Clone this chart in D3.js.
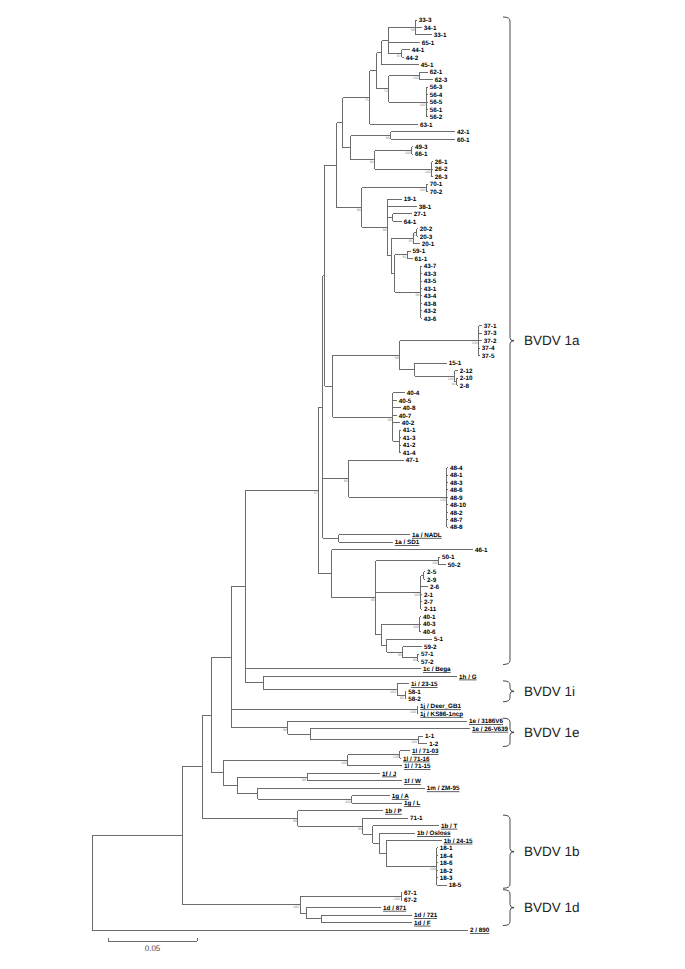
<!DOCTYPE html>
<html><head><meta charset="utf-8">
<script src="https://cdn.jsdelivr.net/npm/d3@7/dist/d3.min.js"></script>
<style>body{margin:0;background:#fff} text{text-rendering:geometricPrecision}</style>
</head><body>
<svg id="c" width="685" height="969"></svg>
<script>
// ---- DATA: tree pieces (Newick, branch lengths in substitutions/site, internal labels = bootstrap) ----
const cladeM   = "((33-3:0.0006,34-1:0.0034,33-1:0.0090)98:0.0152,65-1:0.0174,(44-1:0.0045,44-2:0.0011)97:0.0073)";
const cladeL   = "((62-1:0.0045,62-3:0.0073)100:0.0174,(56-3:0.0006,56-4:0.0006,56-5:0.0006,56-1:0.0006,56-2:0.0006)100:0.0213)74";
const clade351 = "((42-1:0.0360,60-1:0.0360)96:0.0225,((49-3:0.0006,66-1:0.0006)100:0.0208,(26-1:0.0006,26-2:0.0006,26-3:0.0006)100:0.0320)94:0.0135)";
const clade43  = "(43-7:0.0006,43-3:0.0006,43-5:0.0006,43-1:0.0006,43-4:0.0006,43-8:0.0006,43-2:0.0006,43-6:0.0006)98";
const clade37  = "(37-1:0.0017,37-3:0.0017,37-2:0.0017,37-4:0.0006,37-5:0.0006)100";
const clade15  = "(15-1:0.0180,(2-12:0.0017,(2-10:0.0006,2-8:0.0006)91:0.0011)100:0.0225)";
const clade4041= "(40-4:0.0067,40-5:0.0022,40-8:0.0045,40-7:0.0022,40-2:0.0039,(41-1:0.0006,41-3:0.0006,41-2:0.0006,41-4:0.0006):0.0039)99";
const clade48  = "(48-4:0.0006,48-1:0.0006,48-3:0.0006,48-6:0.0006,48-9:0.0006,48-10:0.0006,48-2:0.0006,48-7:0.0006,48-8:0.0006)100";
const cladeV   = "((40-1:0.0006,40-3:0.0006,40-6:0.0006)100:0.0213,(5-1:0.0253,(59-2:0.0107,(57-1:0.0006,57-2:0.0006)80:0.0084)95:0.0090):0.0028)";
const clade2   = "((2-5:0.0006,2-9:0.0006):0.0017,2-6:0.0039,2-1:0.0006,2-7:0.0006,2-11:0.0006)100";
const clade1i  = "(1h / G:0.1090,(1i / 23-15:0.0067,(58-1:0.0006,58-2:0.0006)95:0.0045)100:0.0753)";
const clade1j  = "(1j / Deer_GB1:0.0006,1j / KS86-1ncp:0.0006)100";
const clade1e  = "(1e / 3186V6:0.1006,(1e / 26-V639:0.0899,(1-1:0.0028,1-2:0.0051)100:0.0607):0.0124)88";
const cladeN5  = "(((1l / 71-03:0.0056,1l / 71-16:0.0006)100:0.0292,1l / 71-15:0.0303)100:0.0702,((1f / J:0.0410,1f / W:0.0534)98:0.0388,(1m / ZM-95:0.0938,(1g / A:0.0213,1g / L:0.0281)100:0.0528):0.0112):0.0084)";
const clade1b  = "(1b / P:0.0478,(71-1:0.0253,(1b / T:0.0371,(1b / Osloss:0.0197,(1b / 24-15:0.0309,(18-1:0.0006,18-4:0.0006,18-6:0.0006,18-2:0.0006,18-3:0.0006,18-5:0.0056)100:0.0281):0.0039):0.0039):0.0056)90:0.0365)98";
const clade1d  = "((67-1:0.0006,67-2:0.0006)100:0.0567,(1d / 871:0.0421,(1d / 721:0.0511,1d / F:0.0511):0.0084):0.0034)100";

const cladeNames = ["BVDV 1a", "BVDV 1i", "BVDV 1e", "BVDV 1b", "BVDV 1d"];
const cladeFirst = ["33-3", "1i / 23-15", "1e / 3186V6", "71-1", "67-1"];
const cladeLast  = ["57-2", "58-2", "1-2", "18-5", "1d / F"];
const scaleBarValue = 0.05;
const scaleBarLabel = "0.05";

// ---- assemble Newick ----
const cladeO = `(${cladeM}:0.0039,45-1:0.0208)`;
const cladeP = `(${cladeO}:0.0028,${cladeL}:0.0067)`;
const cladeK = `(${cladeP}:0.0039,63-1:0.0270)75`;
const cladeJ = `(${cladeK}:0.0152,${clade351}:0.0045)`;
const cladeT = `((59-1:0.0017,61-1:0.0028)92:0.0073,${clade43}:0.0146)`;
const cladeS = `(((20-2:0.0006,20-3:0.0006)71:0.0017,20-1:0.0034)95:0.0124,${cladeT}:0.0017)`;
const cladeR = `(19-1:0.0079,38-1:0.0163,(27-1:0.0107,64-1:0.0051):0.0028,${cladeS}:0.0022)96`;
const cladeQ = `((70-1:0.0006,70-2:0.0006)100:0.0365,${cladeR}:0.0146)98`;
const cladeE = `(${cladeJ}:0.0034,${cladeQ}:0.0140)`;
const cladeG = `(${clade37}:0.0444,${clade15}:0.0084)98`;
const cladeF = `(${cladeG}:0.0376,${clade4041}:0.0337)`;
const cladeD = `(${cladeE}:0.0067,${cladeF}:0.0045)`;
const cladeB = `(${cladeD}:0.0011,(47-1:0.0309,${clade48}:0.0551)80:0.0146,(1a / NADL:0.0399,1a / SD1:0.0303):0.0090)`;
const cladeU = `((50-1:0.0006,50-2:0.0039)100:0.0354,${clade2}:0.0253,${cladeV}:0.0034)95`;
const cladeC = `(46-1:0.0792,${cladeU}:0.0247)`;
const clade1a = `(${cladeB}:0.0022,${cladeC}:0.0073)57`;
const cladeN7 = `(${clade1a}:0.0410,1c / Bega:0.0983,${clade1i}:0.0096)`;
const cladeN4 = `(${cladeN7}:0.0084,${clade1j}:0.1045,${clade1e}:0.0320)`;
const cladeN3 = `(${cladeN4}:0.0112,${cladeN5}:0.0067)`;
const cladeN2 = `(${cladeN3}:0.0051,${clade1b}:0.0539)`;
const cladeN1 = `(${cladeN2}:0.0112,${clade1d}:0.0663)`;
const treeNewick = `(${cladeN1}:0.0506,2 / 890:0.2112);`;

function parseNewick(s){
  let i = 0;
  function node(){
    const n = {name:"", length:0};
    if (s[i] === "("){
      i++; n.children = [node()];
      while (s[i] === ","){ i++; n.children.push(node()); }
      i++;
    }
    let name = "";
    while (i < s.length && !":,();".includes(s[i])) name += s[i++];
    n.name = name.trim();
    if (s[i] === ":"){
      i++; let num = "";
      while (i < s.length && !",();".includes(s[i])) num += s[i++];
      n.length = +num;
    }
    return n;
  }
  return node();
}

const root = d3.hierarchy(parseNewick(treeNewick), d => d.children);
root.eachBefore(d => d.dist = d.parent ? d.parent.dist + d.data.length : 0);
const leaves = root.leaves();
const y = d3.scaleLinear().domain([0, leaves.length - 1]).range([20, 930]);
leaves.forEach((d, i) => d.yPos = y(i));
root.eachAfter(d => { if (d.children) d.yPos = (d.children[0].yPos + d.children[d.children.length - 1].yPos) / 2; });
const x = d3.scaleLinear().domain([0, scaleBarValue]).range([92, 181]);

const svg = d3.select("#c");
const lineColor = "#6c6c6c";
const gL = svg.append("g").attr("stroke", lineColor).attr("stroke-width", 1).attr("shape-rendering", "crispEdges");

gL.selectAll("line.h").data(root.descendants().filter(d => d.parent)).join("line")
  .attr("x1", d => x(d.parent.dist)).attr("x2", d => x(d.dist))
  .attr("y1", d => d.yPos).attr("y2", d => d.yPos);
gL.selectAll("line.v").data(root.descendants().filter(d => d.children)).join("line")
  .attr("x1", d => x(d.dist)).attr("x2", d => x(d.dist))
  .attr("y1", d => d.children[0].yPos).attr("y2", d => d.children[d.children.length - 1].yPos);

// leaf labels
svg.append("g").selectAll("text").data(leaves).join("text")
  .attr("x", d => x(d.dist) + 2).attr("y", d => d.yPos)
  .attr("dy", "0.35em")
  .attr("font-family", "Liberation Sans, Arial, sans-serif")
  .attr("font-weight", "bold").attr("font-size", 6.3).attr("fill", "#000")
  .attr("text-decoration", d => d.data.name.includes("/") ? "underline" : null)
  .text(d => d.data.name);

// bootstrap labels
svg.append("g").selectAll("text").data(root.descendants().filter(d => d.children && d.data.name)).join("text")
  .attr("x", d => x(d.dist) - 1).attr("y", d => d.yPos + 3.5)
  .attr("text-anchor", "end")
  .attr("font-family", "Liberation Sans, Arial, sans-serif")
  .attr("font-size", 3.6).attr("fill", "#8a8a8a")
  .text(d => d.data.name);

// clade brackets
const byName = new Map(leaves.map(d => [d.data.name, d]));
const gB = svg.append("g");
cladeNames.forEach((nm, k) => {
  const y1 = byName.get(cladeFirst[k]).yPos - 3, y2 = byName.get(cladeLast[k]).yPos + 3, ym = (y1 + y2) / 2;
  const bx = 510;
  gB.append("path")
    .attr("d", `M${bx-7},${y1} Q${bx},${y1} ${bx},${y1+4} L${bx},${ym-3} Q${bx},${ym} ${bx+4},${ym} Q${bx},${ym} ${bx},${ym+3} L${bx},${y2-4} Q${bx},${y2} ${bx-7},${y2}`)
    .attr("fill", "none").attr("stroke", "#333").attr("stroke-width", 0.9);
  gB.append("text").attr("x", bx + 14).attr("y", ym).attr("dy", "0.35em")
    .attr("font-family", "Liberation Sans, Arial, sans-serif").attr("font-size", 13.5).attr("fill", "#222")
    .text(nm);
});

// scale bar
const sb = svg.append("g").attr("stroke", lineColor).attr("shape-rendering", "crispEdges");
const sx0 = 108, sx1 = sx0 + (x(scaleBarValue) - x(0));
sb.append("line").attr("x1", sx0).attr("x2", sx1).attr("y1", 941).attr("y2", 941);
sb.append("line").attr("x1", sx0).attr("x2", sx0).attr("y1", 938).attr("y2", 941);
sb.append("line").attr("x1", sx1).attr("x2", sx1).attr("y1", 938).attr("y2", 941);
svg.append("text").attr("x", (sx0 + sx1) / 2).attr("y", 948).attr("dy", "0.35em").attr("text-anchor", "middle")
  .attr("font-family", "Liberation Sans, Arial, sans-serif").attr("font-size", 8).attr("fill", "#444")
  .text(scaleBarLabel);
</script>
</body></html>
